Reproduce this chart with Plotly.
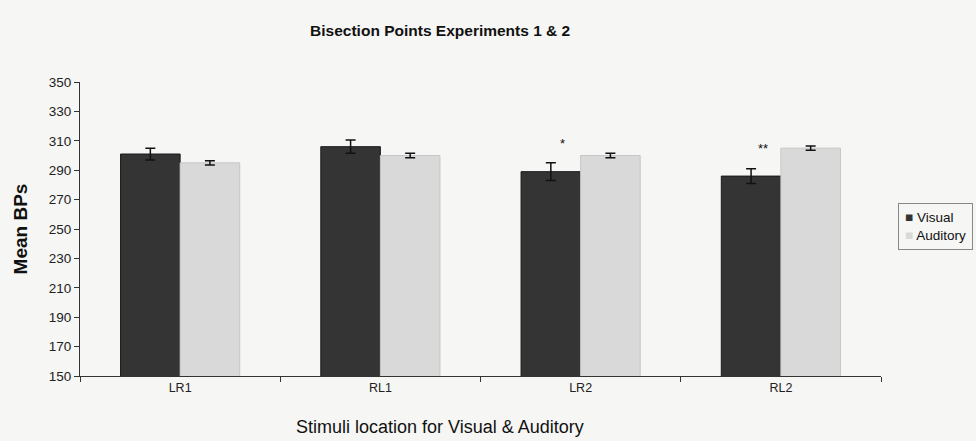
import plotly.graph_objects as go

categories = ["LR1", "RL1", "LR2", "RL2"]
visual = [301, 306, 289, 286]
visual_err = [4, 4.5, 6, 5]
auditory = [295, 300, 300, 305]
auditory_err = [1.5, 1.5, 1.5, 1.5]
significance = ["", "", "*", "**"]
series_names = ["Visual", "Auditory"]
series_colors = ["#343434", "#d9d9d9"]

y_ticks = list(range(150, 351, 20))
FONT = "Liberation Sans, Arial"

fig = go.Figure()
for name, vals, errs, col, lc in zip(series_names, [visual, auditory], [visual_err, auditory_err],
                                     series_colors, ["#1a1a1a", "#c6c6c6"]):
    fig.add_trace(go.Bar(
        name=name, x=categories, y=vals,
        marker=dict(color=col, line=dict(color=lc, width=1)),
        error_y=dict(type="data", array=errs, color="#111111", thickness=1.5, width=5),
        showlegend=False,
    ))

for cat, v, e, s in zip(categories, visual, visual_err, significance):
    if s:
        fig.add_annotation(x=cat, y=v + e + 7, text=s, showarrow=False,
                           xshift=-18, yanchor="bottom",
                           font=dict(family=FONT, size=13, color="#111"))

# compact legend box
legend_text = "<br>".join(
    f"<span style='color:{c}'>■</span> {n}" for n, c in zip(series_names, series_colors))
fig.add_annotation(xref="paper", yref="paper", x=1.021, y=0.507, xanchor="left", yanchor="middle",
                   text=legend_text, align="left", showarrow=False,
                   bordercolor="#888", borderwidth=1, borderpad=6, bgcolor="#f6f6f4",
                   font=dict(family=FONT, size=13.5, color="#111"))

# x-axis title (centred on the chart area as in the reference)
fig.add_annotation(xref="paper", yref="paper", x=0.449, y=-0.173, xanchor="center", yanchor="middle",
                   text="Stimuli location for Visual & Auditory", showarrow=False,
                   font=dict(family=FONT, size=18, color="#111"))

fig.update_layout(
    width=976, height=441,
    paper_bgcolor="#f6f6f4", plot_bgcolor="#f6f6f4",
    margin=dict(l=80, r=95, t=82, b=65, autoexpand=False),
    barmode="group", bargap=0.405, bargroupgap=0,
    title=dict(text="<b>Bisection Points Experiments 1 & 2</b>", x=0.451, xanchor="center",
               y=0.93, yanchor="middle",
               font=dict(family=FONT, size=15.5, color="#111")),
    showlegend=False,
    xaxis=dict(
        type="category", showline=True, linecolor="#333", linewidth=1,
        ticks="outside", ticklen=5, tickcolor="#333", tickson="boundaries",
        tickfont=dict(family=FONT, size=12.5, color="#222"),
        showgrid=False, automargin=False,
    ),
    yaxis=dict(
        range=[150, 350], tickvals=y_ticks, showline=True, linecolor="#333", linewidth=1,
        ticks="outside", ticklen=5, tickcolor="#333",
        tickfont=dict(family=FONT, size=13.5, color="#222"),
        title=dict(text="<b>Mean BPs</b>", standoff=16,
                   font=dict(family=FONT, size=19, color="#111")),
        showgrid=False, zeroline=False, automargin=False,
    ),
)

fig.write_html("out.html", config={"displayModeBar": False},
               post_script="document.body.style.margin='0';document.body.style.background='#f6f6f4';")
